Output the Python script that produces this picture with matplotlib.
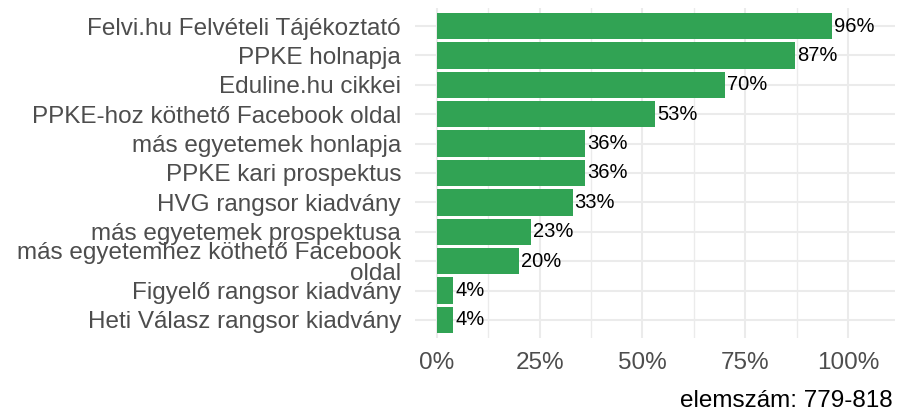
import numpy as np
import matplotlib.pyplot as plt
from matplotlib.ticker import FuncFormatter

plt.rcParams['font.family'] = ['Liberation Sans', 'DejaVu Sans']

labels = ["Felvi.hu Felvételi Tájékoztató", "PPKE holnapja", "Eduline.hu cikkei",
          "PPKE-hoz köthető Facebook oldal", "más egyetemek honlapja",
          "PPKE kari prospektus", "HVG rangsor kiadvány", "más egyetemek prospektusa",
          "más egyetemhez köthető Facebook\noldal", "Figyelő rangsor kiadvány",
          "Heti Válasz rangsor kiadvány"]
values = [0.96, 0.87, 0.70, 0.53, 0.36, 0.36, 0.33, 0.23, 0.20, 0.04, 0.04]
caption = "elemszám: 779-818"

fig = plt.figure(figsize=(8.97, 4.12), dpi=100)
ax = fig.add_axes([415 / 897, 1 - 337.6 / 412, 480 / 897, 329.2 / 412])

y = np.arange(len(labels))[::-1]
ax.barh(y, values, height=0.9, color="#31A354", zorder=3)
for yi, v in zip(y, values):
    ax.text(v + 0.005, yi, f"{v * 100:.0f}%", va="center", ha="left",
            fontsize=14.5, color="black", zorder=4)

ax.set_xlim(-0.053, 1.114)
ax.set_ylim(-0.6, len(labels) - 0.4)
ax.set_yticks(y)
ax.set_yticklabels(labels, fontsize=17.5, color="#4D4D4D", multialignment="right",
                   linespacing=0.95)
ax.set_xticks([0, 0.25, 0.5, 0.75, 1.0])
ax.set_xticks([0.125, 0.375, 0.625, 0.875], minor=True)
ax.xaxis.set_major_formatter(FuncFormatter(lambda x, p: f"{x * 100:.0f}%"))
ax.tick_params(axis="x", labelsize=17.5, labelcolor="#4D4D4D", length=0, pad=10.5)
ax.tick_params(axis="y", length=0, pad=10)
ax.tick_params(which="minor", length=0)
ax.grid(True, which="major", color="#EBEBEB", linewidth=1.5, zorder=0)
ax.grid(True, which="minor", axis="x", color="#EBEBEB", linewidth=1.0, zorder=0)
for s in ax.spines.values():
    s.set_visible(False)

fig.text(893 / 897, 1 - 401 / 412, caption, ha="right", va="center", fontsize=17.5, color="black")

fig.savefig("out.png", dpi=100)
